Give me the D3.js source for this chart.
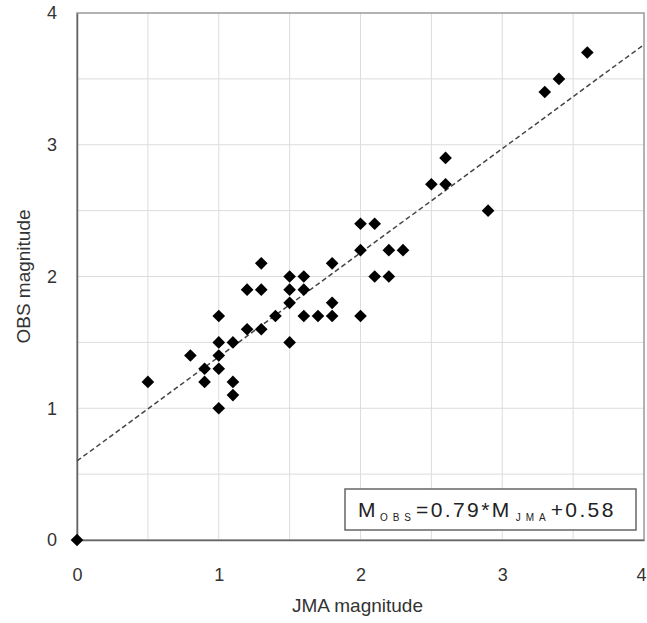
<!DOCTYPE html>
<html>
<head>
<meta charset="utf-8">
<script src="https://cdn.jsdelivr.net/npm/d3@7"></script>
<style>
  body { margin: 0; background: #fff; }
  text { font-family: "Liberation Sans", Arial, sans-serif; }
</style>
</head>
<body>
<div id="chart"></div>
<script>
// JMA vs OBS magnitudes
const jma = [0, 0.5, 0.8, 0.9, 0.9, 1.0, 1.0, 1.0, 1.0, 1.0, 1.1, 1.1, 1.1,
  1.2, 1.2, 1.3, 1.3, 1.3, 1.4, 1.5, 1.5, 1.5, 1.5, 1.6, 1.6, 1.6, 1.7,
  1.8, 1.8, 1.8, 2.0, 2.0, 2.0, 2.1, 2.1, 2.2, 2.2, 2.3, 2.5, 2.6, 2.6,
  2.9, 3.3, 3.4, 3.6];
const obs = [0, 1.2, 1.4, 1.3, 1.2, 1.0, 1.3, 1.4, 1.5, 1.7, 1.1, 1.2, 1.5,
  1.6, 1.9, 1.6, 1.9, 2.1, 1.7, 1.5, 1.8, 1.9, 2.0, 1.7, 1.9, 2.0, 1.7,
  1.7, 1.8, 2.1, 1.7, 2.2, 2.4, 2.0, 2.4, 2.0, 2.2, 2.2, 2.7, 2.7, 2.9,
  2.5, 3.4, 3.5, 3.7];
const xTicks = [0, 1, 2, 3, 4];
const yTicks = [0, 1, 2, 3, 4];
const gridSteps = [0.5, 1, 1.5, 2, 2.5, 3, 3.5];
// fitted line as drawn
const fitSlope = 0.79;
const fitIntercept = 0.6;

const width = 647, height = 623;
const margin = { top: 13, right: 3, bottom: 83, left: 77 };

const svg = d3.select("#chart")
  .append("svg")
  .attr("width", width)
  .attr("height", height);

const x = d3.scaleLinear().domain([0, 4]).range([margin.left, width - margin.right]);
const y = d3.scaleLinear().domain([0, 4]).range([height - margin.bottom, margin.top]);

// grid
svg.append("g")
  .selectAll("line.gx")
  .data(gridSteps)
  .enter()
  .append("line")
  .attr("x1", (d) => x(d))
  .attr("x2", (d) => x(d))
  .attr("y1", y(0))
  .attr("y2", y(4))
  .attr("stroke", "#dcdcdc")
  .attr("stroke-width", 1);

svg.append("g")
  .selectAll("line.gy")
  .data(gridSteps)
  .enter()
  .append("line")
  .attr("x1", x(0))
  .attr("x2", x(4))
  .attr("y1", (d) => y(d))
  .attr("y2", (d) => y(d))
  .attr("stroke", "#dcdcdc")
  .attr("stroke-width", 1);

// frame
svg.append("rect")
  .attr("x", x(0))
  .attr("y", y(4))
  .attr("width", x(4) - x(0))
  .attr("height", y(0) - y(4))
  .attr("fill", "none")
  .attr("stroke", "#999")
  .attr("stroke-width", 1.5);

// axes (left + bottom darker)
const xAxis = d3.axisBottom(x).tickValues(xTicks).tickSize(0).tickPadding(28).tickFormat(d3.format("d"));
const yAxis = d3.axisLeft(y).tickValues(yTicks).tickSize(0).tickPadding(20).tickFormat(d3.format("d"));

svg.append("g")
  .attr("transform", `translate(0,${y(0)})`)
  .call(xAxis)
  .call((g) => g.select(".domain").attr("stroke", "#666").attr("stroke-width", 1.5))
  .call((g) => g.selectAll("text").attr("font-size", "18px").attr("fill", "#333")
    .attr("font-family", "Liberation Sans, Arial, sans-serif")
    .attr("dx", (d) => (d === 4 ? -3 : 0)));

svg.append("g")
  .attr("transform", `translate(${x(0)},0)`)
  .call(yAxis)
  .call((g) => g.select(".domain").attr("stroke", "#666").attr("stroke-width", 1.5))
  .call((g) => g.selectAll("text").attr("font-size", "18px").attr("fill", "#333")
    .attr("font-family", "Liberation Sans, Arial, sans-serif"));

// fitted line
svg.append("line")
  .attr("x1", x(0))
  .attr("y1", y(fitIntercept))
  .attr("x2", x(4))
  .attr("y2", y(fitIntercept + fitSlope * 4))
  .attr("stroke", "#444")
  .attr("stroke-width", 1.5)
  .attr("stroke-dasharray", "5,3");

// points
const points = jma.map((d, i) => ({ x: d, y: obs[i] }));
const diamond = d3.symbol().type(d3.symbolSquare).size(80);
svg.append("g")
  .selectAll("path")
  .data(points)
  .enter()
  .append("path")
  .attr("d", diamond)
  .attr("transform", (d) => `translate(${x(d.x)},${y(d.y)}) rotate(45)`)
  .attr("fill", "#000");

// legend box
const legend = svg.append("g").attr("transform", "translate(345,489)");
legend.append("rect")
  .attr("width", 291)
  .attr("height", 41)
  .attr("fill", "#fff")
  .attr("stroke", "#666")
  .attr("stroke-width", 1.5);

const eq = legend.append("text")
  .attr("x", 13)
  .attr("y", 28)
  .attr("font-size", "21px")
  .attr("letter-spacing", "2.4px")
  .attr("fill", "#222");
eq.append("tspan").text("M");
eq.append("tspan").attr("font-size", "10px").attr("letter-spacing", "5px")
  .attr("dx", 2).attr("dy", 4).text("OBS");
eq.append("tspan").attr("dy", -4).text("=0.79*M");
eq.append("tspan").attr("font-size", "10px").attr("letter-spacing", "5px")
  .attr("dx", 4).attr("dy", 4).text("JMA");
eq.append("tspan").attr("dy", -4).text("+0.58");

// axis titles
svg.append("text")
  .attr("x", (x(0) + x(4)) / 2 - 3)
  .attr("y", 612)
  .attr("text-anchor", "middle")
  .attr("font-size", "19px")
  .attr("fill", "#333")
  .text("JMA magnitude");

svg.append("text")
  .attr("transform", `translate(30,${(y(0) + y(4)) / 2}) rotate(-90)`)
  .attr("text-anchor", "middle")
  .attr("font-size", "19px")
  .attr("fill", "#333")
  .text("OBS magnitude");
</script>
</body>
</html>
